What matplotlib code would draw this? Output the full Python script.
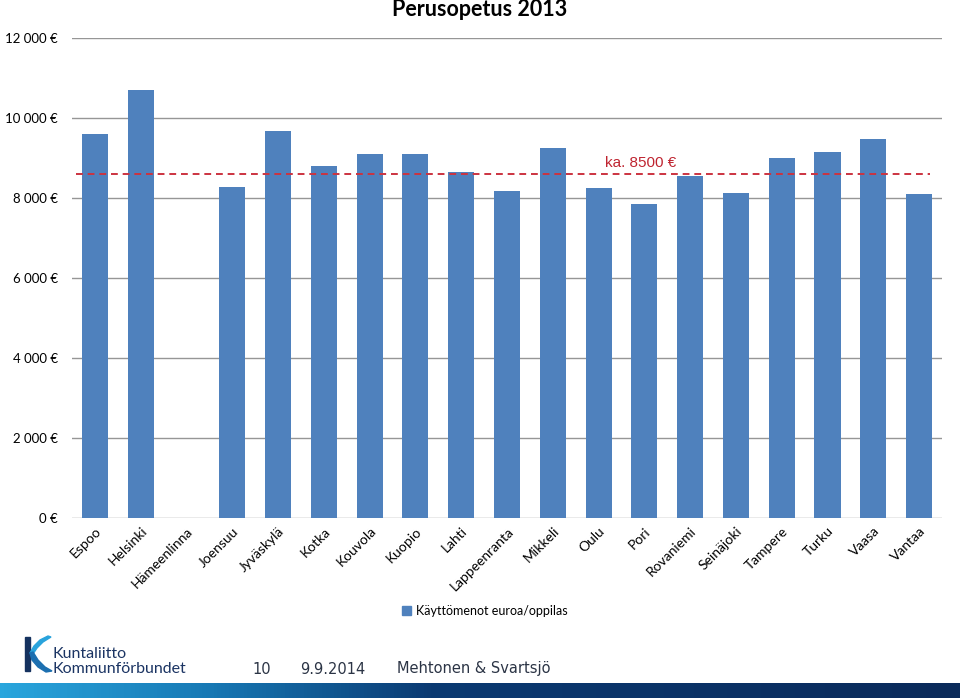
import numpy as np
import matplotlib
matplotlib.use("Agg")
import matplotlib.pyplot as plt
from matplotlib.patches import Patch, Polygon, Rectangle
from matplotlib.colors import LinearSegmentedColormap

cities = ['Espoo', 'Helsinki', 'Hämeenlinna', 'Joensuu', 'Jyväskylä', 'Kotka',
          'Kouvola', 'Kuopio', 'Lahti', 'Lappeenranta', 'Mikkeli', 'Oulu',
          'Pori', 'Rovaniemi', 'Seinäjoki', 'Tampere', 'Turku', 'Vaasa', 'Vantaa']
costs = [9610, 10700, np.nan, 8270, 9680, 8810, 9110, 9110, 8640, 8170,
         9240, 8240, 7840, 8540, 8120, 9010, 9160, 9480, 8110]
avg_line = 8590
yticks = [0, 2000, 4000, 6000, 8000, 10000, 12000]
ytick_labels = ['0 €', '2 000 €', '4 000 €', '6 000 €', '8 000 €', '10 000 €', '12 000 €']

W, H = 960, 698
fig = plt.figure(figsize=(9.6, 6.98), dpi=100)
plt.rcParams['font.family'] = ['Lato', 'DejaVu Sans']

ax = fig.add_axes([72 / W, 1 - 518 / H, 870 / W, 480 / H])
x = np.arange(len(cities))
ax.bar(x, costs, width=0.57, color='#4f81bd', zorder=3)
ax.set_xlim(-0.5, len(cities) - 0.5)
ax.set_ylim(0, 12000)
ax.set_yticks(yticks)
ax.set_yticklabels(ytick_labels, fontsize=9.5)
ax.yaxis.grid(True, color='#969696', linewidth=1.0, zorder=0)
ax.set_axisbelow(True)
ax.tick_params(length=0, pad=10)
ax.tick_params(axis='x', pad=5)
ax.set_xticks(x)
ax.set_xticklabels(cities, rotation=45, ha='right', va='top',
                   rotation_mode='anchor', fontsize=10)
for s in ax.spines.values():
    s.set_visible(False)

# average line
ax.axhline(avg_line, xmin=4 / 870, xmax=858 / 870, color='#cc3340',
           linestyle=(0, (3.5, 2.5)), linewidth=1.4, zorder=4)
ax.text(533 / 870, (518 - 163) / 480, 'ka. 8500 €', transform=ax.transAxes,
        color='#bf2430', fontsize=11, family='Liberation Sans',
        ha='left', va='center')

fig.text(480 / W, 1 - 10 / H, 'Perusopetus 2013', ha='center', va='center',
         fontsize=15.5, fontweight='bold', color='black')

fig.legend(handles=[Patch(color='#4f81bd', label='Käyttömenot euroa/oppilas')],
           loc='center', bbox_to_anchor=(485 / W, 1 - 611 / H), frameon=False,
           fontsize=9, handlelength=0.7, handleheight=0.7, handletextpad=0.4)

# footer gradient bar
gax = fig.add_axes([0, 0, 1, 15 / H])
cmap = LinearSegmentedColormap.from_list(
    'kl', [(0, '#2aa6dd'), (0.22, '#1778b4'), (0.45, '#0b3a72'), (1, '#0a2a5a')])
gax.imshow(np.linspace(0, 1, 256)[None, :], aspect='auto', cmap=cmap,
           extent=[0, 1, 0, 1])
gax.set_axis_off()

# logo
lax = fig.add_axes([0, 1 - 680 / H, 200 / W, 50 / H])
lax.set_xlim(0, 200)
lax.set_ylim(680, 630)
lax.set_axis_off()
lax.add_patch(Rectangle((25, 637), 5, 34, color='#15325f'))
lax.add_patch(Polygon([(30, 653), (34, 646), (40, 640), (48, 636), (51, 637),
                       (43, 642), (37, 648), (33, 654)], color='#29a3dc'))
lax.add_patch(Polygon([(30, 653), (33, 652), (38, 660), (45, 667), (52, 671),
                       (46, 672), (38, 667), (32, 660)], color='#1c6fb0'))
lax.text(53, 654, 'Kuntaliitto', color='#1b3463', fontsize=11.5,
         va='center', ha='left')
lax.text(53, 669, 'Kommunförbundet', color='#1b3463', fontsize=11.5,
         va='center', ha='left')

for xpos, txt in [(252, '10'), (300, '9.9.2014'), (397, 'Mehtonen & Svartsjö')]:
    fig.text(xpos / W, 1 - 669 / H, txt, fontsize=10.5, family='DejaVu Sans',
             color='#2b3445', ha='left', va='center')

fig.savefig('out.png', dpi=100)
